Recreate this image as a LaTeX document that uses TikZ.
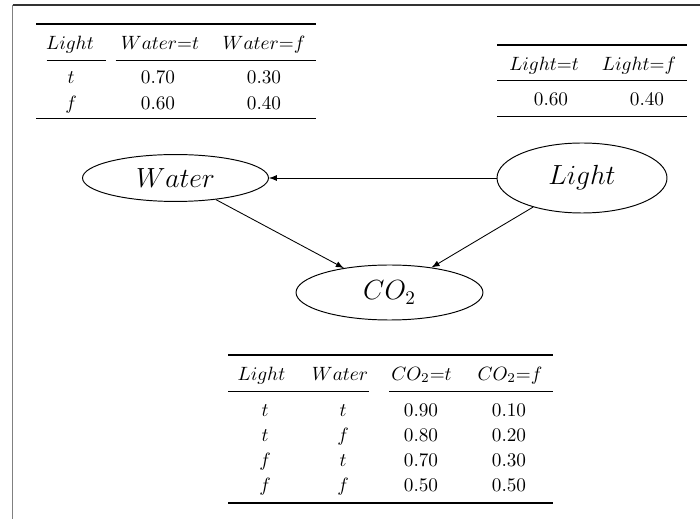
\documentclass[tikz,border=0pt]{standalone}
\usepackage{amsmath}
\usetikzlibrary{shapes.geometric}
\begin{document}
\begin{tikzpicture}[x=0.52pt,y=-0.52pt,
  tt/.style={inner sep=0pt, anchor=base, font=\fontsize{10}{12}\selectfont},
  heavy/.style={line width=0.8pt},
  lightrule/.style={line width=0.5pt},
  var/.style={draw, ellipse, inner sep=0pt, font=\Large, line width=0.5pt},
  edge/.style={-latex, line width=0.45pt}]
\useasboundingbox (0,0) rectangle (700,519);
% frame
\draw[black!50, line width=1pt] (12.5,519) -- (12.5,5);
\draw[black!80, line width=1pt] (12.5,5) -- (700,5);

% ---- table 1 : P(Water | Light)
\draw[heavy] (36,24) -- (316,24);
\node[tt] (a0) at (70,50) {$Light$};
\node[tt] (a1) at (160,50) {$Water{=}t$};
\node[tt] (a2) at (264,50) {$Water{=}f$};
\draw[lightrule] (46.5,60.5) -- (106,60.5);
\draw[lightrule] (115.5,60.5) -- (316,60.5);
\node[tt] (a10) at (71,84) {$t$};
\node[tt] (a11) at (158,84) {0.70};
\node[tt] (a12) at (264,84) {0.30};
\node[tt] (a20) at (71,110) {$f$};
\node[tt] (a21) at (158,110) {0.60};
\node[tt] (a22) at (264,110) {0.40};
\draw[heavy] (36,118.5) -- (316,118.5);

% ---- table 2 : P(Light)
\draw[heavy] (497,45) -- (687,45);
\node[tt] (b1) at (544,71) {$Light{=}t$};
\node[tt] (b2) at (639,71) {$Light{=}f$};
\draw[lightrule] (497,80.5) -- (687,80.5);
\node[tt] (b11) at (551,106) {0.60};
\node[tt] (b12) at (647,106) {0.40};
\draw[heavy] (497,116.5) -- (687,116.5);

% ---- network
\node[var, minimum width=96.7pt, minimum height=24.4pt] (Water) at (175.5,178) {$Water$};
\node[var, minimum width=88.4pt, minimum height=36.4pt] (Light) at (582,178) {$Light$};
\node[var, minimum width=97.2pt, minimum height=28.6pt] (CO2) at (389.5,292.5) {$CO_2$};
\draw[edge] (Light) -- (Water);
\draw[edge] (Water) -- (CO2);
\draw[edge] (Light) -- (CO2);

% ---- table 3 : P(CO2 | Light, Water)
\draw[heavy] (228,355) -- (553,355);
\node[tt] (c0) at (261.5,380) {$Light$};
\node[tt] (c1) at (340,380) {$Water$};
\node[tt] (c2) at (421.5,380) {$CO_2{=}t$};
\node[tt] (c3) at (510,380) {$CO_2{=}f$};
\draw[lightrule] (228,391) -- (369,391);
\draw[lightrule] (389,391) -- (553,391);
\node[tt] (c10) at (265,416) {$t$};
\node[tt] (c11) at (343,416) {$t$};
\node[tt] (c12) at (421,416) {0.90};
\node[tt] (c13) at (509,416) {0.10};
\node[tt] (c20) at (265,441) {$t$};
\node[tt] (c21) at (343,441) {$f$};
\node[tt] (c22) at (421,441) {0.80};
\node[tt] (c23) at (509,441) {0.20};
\node[tt] (c30) at (265,466) {$f$};
\node[tt] (c31) at (343,466) {$t$};
\node[tt] (c32) at (421,466) {0.70};
\node[tt] (c33) at (509,466) {0.30};
\node[tt] (c40) at (265,491) {$f$};
\node[tt] (c41) at (343,491) {$f$};
\node[tt] (c42) at (421,491) {0.50};
\node[tt] (c43) at (509,491) {0.50};
\draw[heavy] (228,503) -- (553,503);
\end{tikzpicture}
\end{document}
